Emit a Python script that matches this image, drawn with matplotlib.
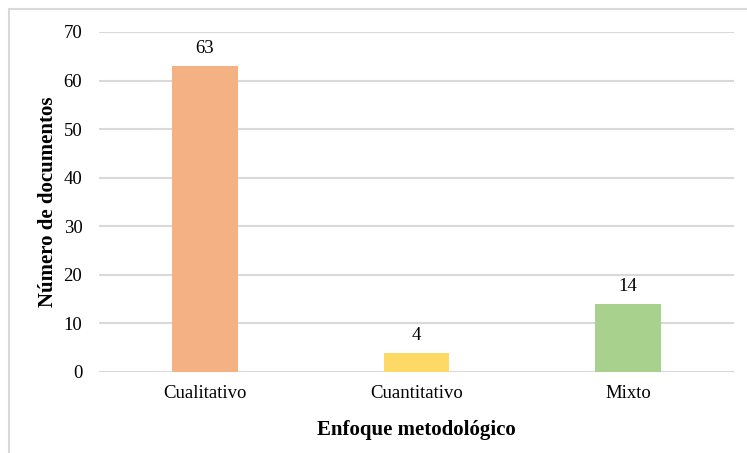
import numpy as np
import matplotlib.pyplot as plt
from matplotlib.patches import Rectangle

categories = ["Cualitativo", "Cuantitativo", "Mixto"]
counts = [63, 4, 14]
colors = ["#F4B183", "#FFD966", "#A9D18E"]

plt.rcParams['font.family'] = ['Liberation Serif', 'DejaVu Serif']

fig = plt.figure(figsize=(7.47, 4.53), dpi=100)
ax = fig.add_axes([99/747, 1-372/453, (734-99)/747, (372-32)/453])

x = np.arange(len(categories))
bars = ax.bar(x, counts, width=0.31, color=colors, zorder=3)
for xi, v in zip(x, counts):
    ax.text(xi, v + 1.8, str(v), ha="center", va="bottom", fontsize=13.5)

ax.set_xlim(-0.5, 2.5)
ax.set_ylim(0, 70)
ax.set_yticks(range(0, 71, 10))
ax.set_xticks(x)
ax.set_xticklabels(categories)
ax.grid(axis="y", color="#D9D9D9", linewidth=1.5, zorder=0)
for s in ax.spines.values():
    s.set_visible(False)
ax.tick_params(axis="both", length=0, labelsize=13.5)
ax.tick_params(axis="y", pad=12)
ax.tick_params(axis="x", pad=9)

ax.set_ylabel("Número de documentos", fontsize=15, fontweight="bold")
ax.yaxis.set_label_coords(-0.064, 0.5)
ax.set_xlabel("Enfoque metodológico", fontsize=15, fontweight="bold", labelpad=13)

# outer frame (left/top visible, the rest cut off)
fig.patches.append(Rectangle((8.5/747, -0.1), 1.2, 1.1 - 9/453, transform=fig.transFigure,
                             fill=False, edgecolor="#D9D9D9", linewidth=1.5))

fig.savefig("out.png", dpi=100)
